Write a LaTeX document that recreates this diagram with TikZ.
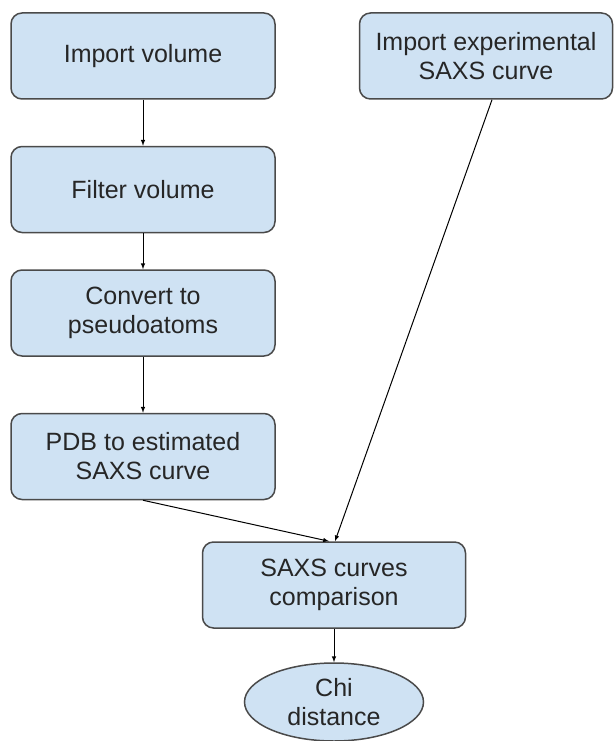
\documentclass[tikz,border=0pt]{standalone}
\usepackage{fontspec}
\setmainfont{Liberation Sans}
\usepackage{xcolor}
\usetikzlibrary{positioning,shapes.geometric}
\definecolor{boxblue}{HTML}{CFE2F3}
\definecolor{boxline}{HTML}{4A4A4A}
\tikzstyle{arrow} = [-latex]
\tikzstyle{stepbox} = [draw=boxline, line width=1.5pt, fill=boxblue, rounded corners=11pt,
	minimum width=264pt, minimum height=86pt, align=center, inner sep=0pt,
	text=black!85, font=\fontsize{25}{29}\selectfont]
\tikzstyle{endnode} = [ellipse, draw=boxline, line width=1.5pt, fill=boxblue,
	minimum width=179pt, minimum height=78pt, align=center, inner sep=0pt,
	text=black!85, font=\fontsize{25}{29}\selectfont]

\begin{document}
\begin{tikzpicture}[x=1pt, y=-1pt, line width=1pt]
		\useasboundingbox (0,0) rectangle (615,741);

		\node (impvol) [stepbox] at (143,56) {Import volume};
		\node (filter) [stepbox, below=46pt of impvol] {Filter volume};
		\node (pseudo) [stepbox, below=36pt of filter] {Convert to\\pseudoatoms};
		\node (pdb) [stepbox, below=56pt of pseudo] {PDB to estimated\\SAXS curve};
		\node (impexp) [stepbox, minimum width=253pt] at (486,56) {Import experimental\\SAXS curve};
		\node (compare) [stepbox, minimum width=263pt] at (334,585) {SAXS curves\\comparison};
		\node (chi) [endnode] at (334,702) {Chi\\distance};

		\draw [arrow] (impvol) -- (filter);
		\draw [arrow] (filter) -- (pseudo);
		\draw [arrow] (pseudo) -- (pdb);
		\draw [arrow] (pdb.south) -- ([xshift=-5pt]compare.north);
		\draw [arrow] ([xshift=6pt]impexp.south) -- ([xshift=1pt]compare.north);
		\draw [arrow] (compare) -- (chi);
	\end{tikzpicture}
\end{document}
